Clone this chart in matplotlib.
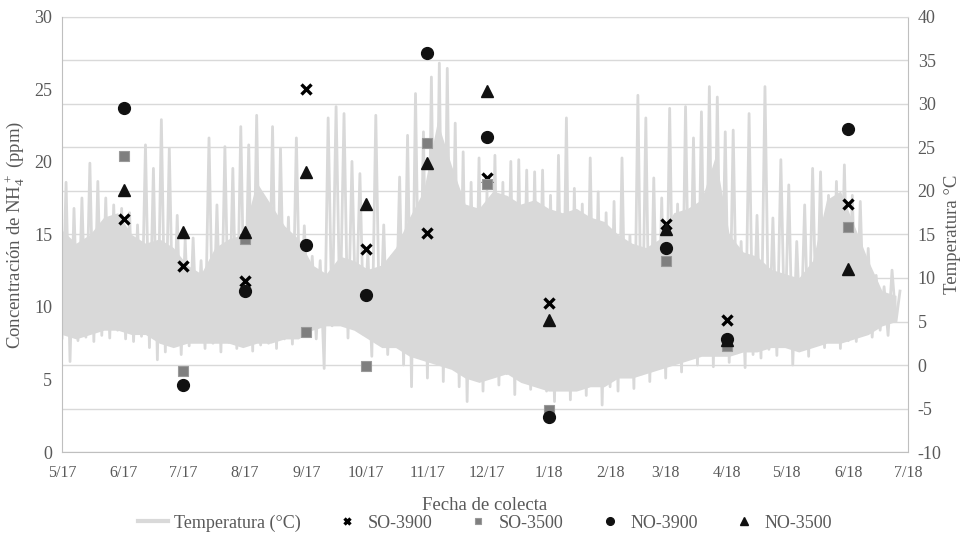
import numpy as np
import matplotlib
matplotlib.use("Agg")
import matplotlib.pyplot as plt
import matplotlib.dates as mdates
from matplotlib.ticker import FuncFormatter

plt.rcParams['font.family'] = ['Liberation Serif', 'DejaVu Serif']
plt.rcParams['axes.unicode_minus'] = False

# Fechas de colecta y concentraciones de NH4+ (ppm)
fechas = np.array(['2017-06-01', '2017-07-01', '2017-08-01', '2017-09-01',
                   '2017-10-01', '2017-11-01', '2017-12-01', '2018-01-01',
                   '2018-03-01', '2018-04-01', '2018-06-01'], dtype='datetime64[D]')
so_3900 = [16.1, 12.8, 11.8, 25.0, 14.0, 15.1, 18.9, 10.3, 15.7, 9.1, 17.1]
so_3500 = [20.4, 5.6, 14.7, 8.3, 5.9, 21.3, 18.5, 2.9, 13.2, 7.3, 15.5]
no_3900 = [23.7, 4.6, 11.1, 14.3, 10.8, 27.5, 21.7, 2.4, 14.1, 7.8, 22.3]
no_3500 = [18.1, 15.2, 15.2, 19.3, 17.1, 19.9, 24.9, 9.1, 15.4, 7.7, 12.6]

# Temperatura del aire: minimos y maximos cada 4 dias desde el 1/5/2017
inicio_temp = np.datetime64('2017-05-01')
temp_min = [3.1, 0.4, 2.8, 3.2, 2.7, 3.4, 3.1, 4.0, 3.0, 2.7,
            3.3, 2.0, 0.6, 1.5, 2.5, 1.2, 2.2, 2.7, 1.9, 2.5,
            1.5, 2.6, 1.9, 2.7, 1.6, 2.3, 2.5, 1.9, 3.0, 2.4,
            3.5, 5.5, 3.0, -0.4, 4.5, 5.0, 3.1, 4.6, 3.5, 1.0,
            2.5, 1.2, 2.7, 0.0, -2.5, 1.0, -1.5, 0.5, -1.9, 0.2,
            -2.5, -4.2, -1.5, -3.0, -0.5, -2.3, -1.0, -3.4, -1.5, -2.8,
            -0.8, -3.0, -4.2, -2.5, -4.0, -2.2, -3.5, -1.5, -4.6, -2.5,
            -3.0, -0.5, -2.7, -1.0, -1.9, -0.3, -1.5, 0.2, -0.8, 1.5,
            0.0, 1.2, -0.2, 1.6, 0.3, 1.4, -0.3, 1.2, 0.8, 1.8,
            1.1, 2.9, 0.0, 2.6, 1.0, 3.5, 2.0, 3.0, 1.9, 2.8,
            2.7, 3.6, 3.2, 4.0, 3.4, 5.0]
temp_max = [21.0, 18.0, 19.2, 23.2, 21.1, 19.2, 18.4, 18.0, 17.5, 16.1,
            25.3, 22.6, 28.2, 24.9, 17.2, 14.5, 14.6, 12.0, 26.1, 18.4,
            25.1, 22.6, 27.4, 25.3, 28.7, 19.0, 27.4, 24.9, 17.0, 26.1,
            16.0, 12.5, 12.0, 28.4, 29.7, 28.9, 23.4, 22.0, 13.0, 28.7,
            16.1, 12.5, 21.6, 26.4, 31.2, 26.8, 33.1, 34.7, 34.1, 27.8,
            24.5, 21.0, 23.8, 20.0, 24.1, 21.0, 23.4, 23.6, 22.4, 22.2,
            22.4, 19.5, 24.1, 28.4, 20.3, 18.5, 23.8, 19.9, 17.5, 18.8,
            23.8, 14.9, 31.0, 28.4, 21.5, 19.2, 29.5, 18.5, 29.7, 26.1,
            29.1, 32.0, 30.8, 26.8, 27.0, 14.2, 28.9, 17.2, 32.0, 16.9,
            23.6, 20.7, 14.2, 18.4, 22.6, 22.2, 19.5, 21.1, 23.0, 19.5,
            18.8, 13.4, 10.3, 9.0, 10.9, 8.5]

# Franja diaria tipica, semanal desde el 1/5/2017
nucleo_alto = [15.5, 14.0, 15.0, 17.0, 17.5, 15.0, 14.0, 14.5, 13.5, 11.5,
               10.5, 13.5, 14.5, 15.0, 21.0, 18.5, 16.0, 14.5, 11.5, 10.5,
               12.5, 12.0, 11.0, 11.5, 13.5, 17.0, 20.0, 28.0, 23.0, 18.5,
               18.0, 20.0, 19.5, 18.5, 19.0, 18.0, 17.5, 18.0, 17.0, 16.5,
               15.0, 14.0, 13.5, 14.5, 17.5, 18.0, 19.0, 24.0, 15.0, 13.0,
               12.5, 11.0, 10.5, 10.0, 12.0, 19.0, 20.0, 16.0, 12.0, 8.5,
               8.0]
nucleo_bajo = [3.5, 3.0, 3.5, 4.0, 4.0, 3.5, 3.5, 2.5, 2.0, 2.5,
               2.5, 2.5, 2.5, 2.0, 2.5, 2.5, 3.0, 3.0, 4.0, 4.5,
               4.5, 4.0, 3.0, 2.0, 2.0, 1.0, 0.5, 0.0, -0.5, -1.5,
               -2.0, -1.5, -1.0, -2.0, -2.5, -3.0, -3.0, -3.0, -2.5, -2.5,
               -1.5, -1.5, -1.0, -0.5, 0.0, 0.5, 1.0, 1.0, 1.0, 1.5,
               1.5, 2.0, 2.0, 1.5, 2.0, 2.5, 2.5, 3.0, 3.5, 4.5,
               5.0]

dias_min = inicio_temp + np.arange(len(temp_min)) * 4
dias_max = dias_min + 2
x_temp = np.column_stack([dias_min, dias_max]).ravel()
y_temp = np.column_stack([temp_min, temp_max]).ravel()
fechas_nucleo = inicio_temp + np.arange(len(nucleo_alto)) * 7

gris_texto = '#595959'
gris_eje = '#bfbfbf'
gris_temp = '#d9d9d9'

fig = plt.figure(figsize=(9.7, 5.41), dpi=100)
ax = fig.add_axes([0.064, 0.1645, 0.872, 0.8041])
ax2 = ax.twinx()

# temperatura en el eje derecho, por debajo de los puntos
ax2.fill_between(fechas_nucleo, nucleo_bajo, nucleo_alto, color=gris_temp, lw=0)
linea_t, = ax2.plot(x_temp, y_temp, color=gris_temp, lw=2.0, label='Temperatura (°C)')
ax2.set_ylim(-10, 40)
ax2.set_yticks(range(-10, 41, 5))
ax2.grid(True, color=gris_temp, lw=1)
ax2.set_axisbelow(True)

ax.set_zorder(ax2.get_zorder() + 1)
ax.patch.set_visible(False)

h1, = ax.plot(fechas, so_3900, 'x', color='black', ms=7.5, mew=2.4, label='SO-3900')
h2, = ax.plot(fechas, so_3500, 's', color='#7f7f7f', mec='#999999', ms=7, mew=0.8, label='SO-3500')
h3, = ax.plot(fechas, no_3900, 'o', color='#111111', ms=8.5, label='NO-3900')
h4, = ax.plot(fechas, no_3500, '^', color='#111111', ms=8.5, label='NO-3500')

ax.set_ylim(0, 30)
ax.set_yticks(range(0, 31, 5))
ax.set_xlim(np.datetime64('2017-05-01'), np.datetime64('2018-07-01'))
ax.xaxis.set_major_locator(mdates.MonthLocator())
ax.xaxis.set_major_formatter(FuncFormatter(
    lambda v, p: f"{mdates.num2date(v).month}/{mdates.num2date(v):%y}"))

for s in ['top', 'right']:
    ax.spines[s].set_visible(False)
for s in ['left', 'bottom']:
    ax.spines[s].set_color(gris_eje)
for s in ['left', 'bottom']:
    ax2.spines[s].set_visible(False)
ax2.spines['right'].set_color(gris_eje)
ax2.spines['top'].set_color(gris_temp)

ax.tick_params(axis='y', length=0, pad=7, labelsize=13, labelcolor=gris_texto)
ax.tick_params(axis='x', length=0, pad=9, labelsize=11.5, labelcolor=gris_texto)
ax2.tick_params(axis='y', length=0, pad=7, labelsize=13, labelcolor=gris_texto)

ax.set_ylabel(r'Concentración de NH$\mathregular{_4^+}$ (ppm)', fontsize=13.5, color=gris_texto)
ax.yaxis.set_label_coords(-0.041, 0.5)
ax2.set_ylabel('Temperatura °C', fontsize=13.5, color=gris_texto)
ax2.yaxis.set_label_coords(1.043, 0.5)
ax.set_xlabel('Fecha de colecta', fontsize=13.5, color=gris_texto)
ax.xaxis.set_label_coords(0.5, -0.103)

linea_t.set_linewidth(3)
fig.legend([linea_t, h1, h2, h3, h4],
           ['Temperatura (°C)', 'SO-3900', 'SO-3500', 'NO-3900', 'NO-3500'],
           loc='center', bbox_to_anchor=(0.5, 0.033), ncol=5, frameon=False,
           fontsize=13, markerscale=0.65, handlelength=1.7, columnspacing=1.7,
           handletextpad=0.3, labelcolor=gris_texto)
linea_t.set_linewidth(2.0)

fig.savefig('out.png', dpi=100)
